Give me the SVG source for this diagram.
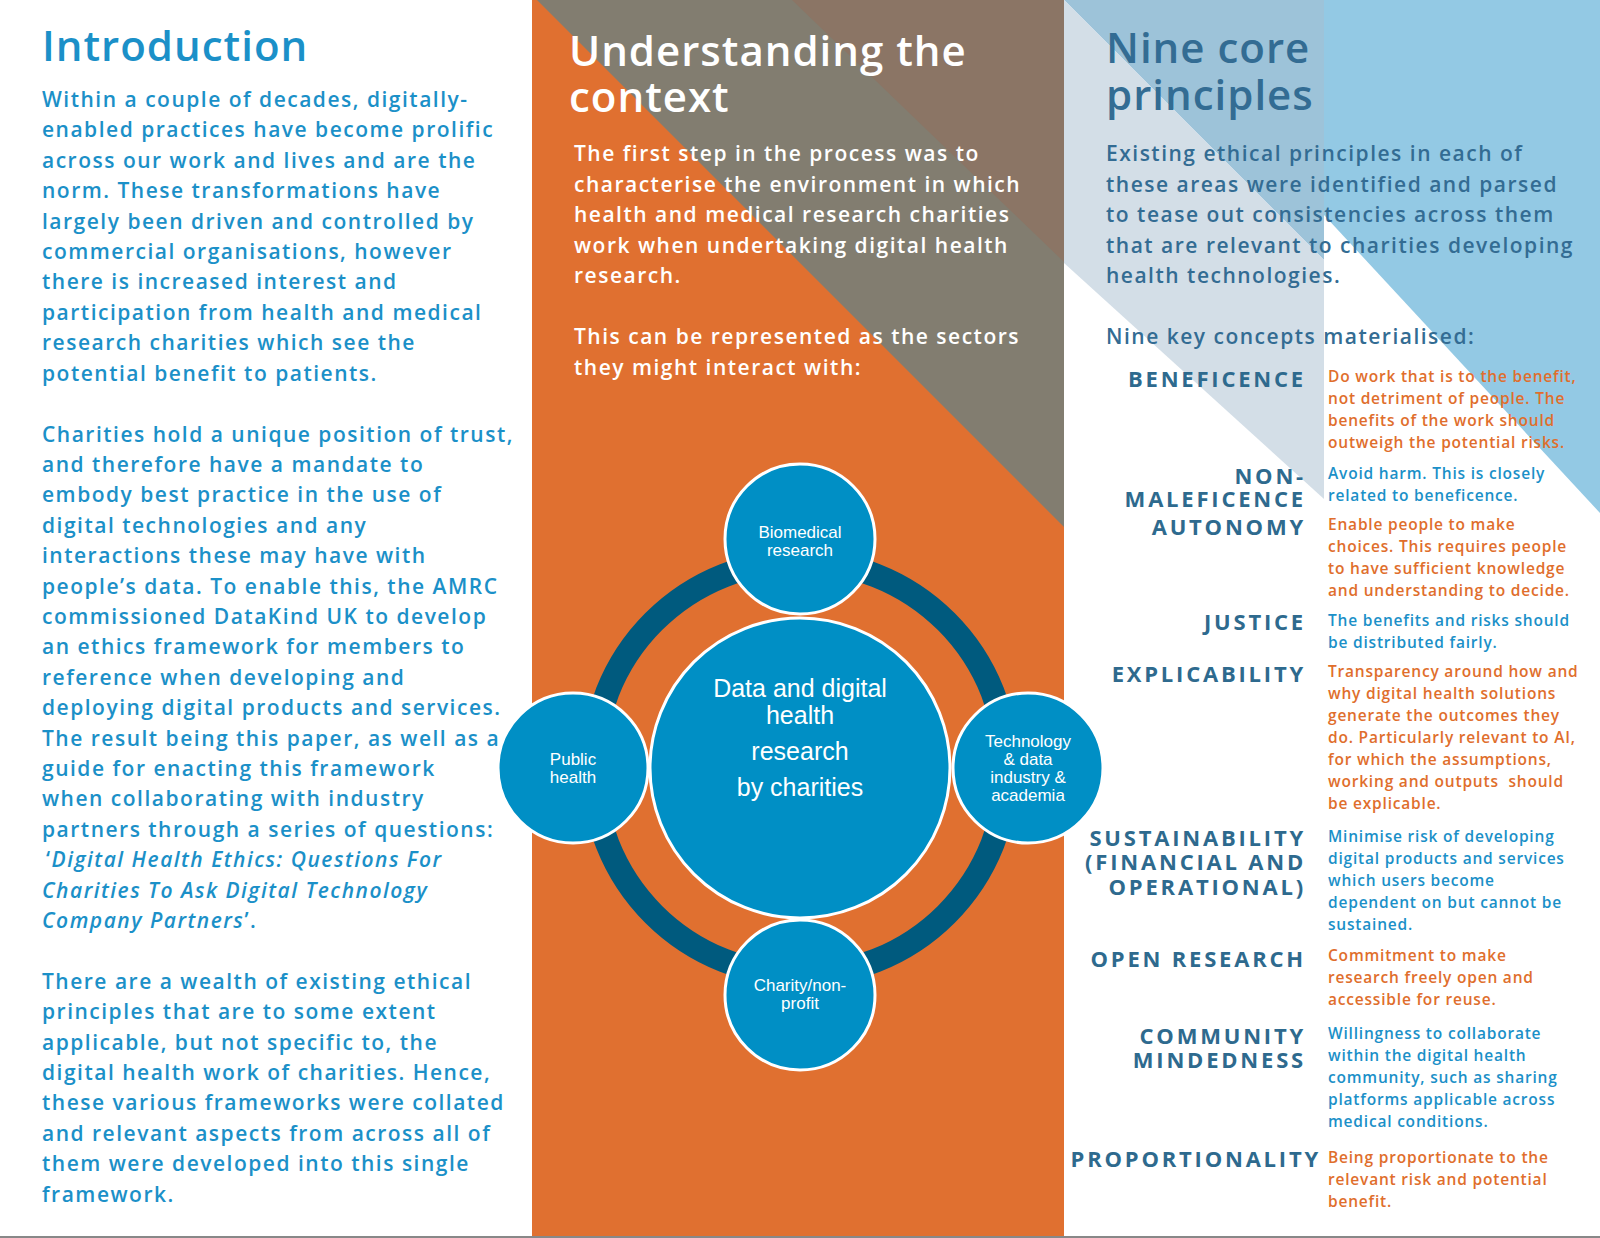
<svg xmlns="http://www.w3.org/2000/svg" width="1600" height="1238" viewBox="0 0 1600 1238">
<style>
text{font-family:"Open Sans","DejaVu Sans",sans-serif;}
.h{font-size:42px;font-weight:600;letter-spacing:1px;}
.p{font-size:21px;font-weight:600;fill:#1B90C8;letter-spacing:1.5px;}
.pw{font-size:21px;font-weight:600;fill:#ffffff;letter-spacing:1.5px;}
.pr{font-size:21px;font-weight:600;fill:#336C93;letter-spacing:1.5px;}
.lab{font-size:22px;font-weight:700;fill:#2E6A8E;letter-spacing:2.8px;text-anchor:end;}
.d{font-size:15.5px;font-weight:600;letter-spacing:0.8px;}
.o{fill:#E06E2C;}
.b{fill:#1B90C8;}
.node{fill:#008FC5;stroke:#ffffff;stroke-width:3;}
.nt{font-family:"Liberation Sans",Arial,sans-serif;fill:#ffffff;text-anchor:middle;font-size:17px;}
.ct{font-family:"Liberation Sans",Arial,sans-serif;fill:#ffffff;text-anchor:middle;font-size:25px;}
</style>
<rect width="1600" height="1238" fill="#ffffff"/>
<rect x="532" y="0" width="532" height="1238" fill="#E07030"/>
<polygon points="537,0 1064,0 1064,527" fill="#827D70"/>
<polygon points="792,0 1064,0 1064,262" fill="#8B7565"/>
<polygon points="1324,0 1600,0 1600,513 1324,215" fill="#93C9E4"/>
<polygon points="1064,0 1324,0 1324,260" fill="#9DC3D9"/>
<polygon points="1064,0 1324,260 1324,499 1064,263" fill="#D3DEE7"/>
<line x1="0" y1="1237" x2="1600" y2="1237" stroke="#888" stroke-width="2"/>

<text class="h" x="42" y="61" fill="#1B90C8">Introduction</text>
<g class="p">
<text x="42" y="107">Within a couple of decades, digitally-</text>
<text x="42" y="137.4">enabled practices have become prolific</text>
<text x="42" y="167.8">across our work and lives and are the</text>
<text x="42" y="198.2">norm. These transformations have</text>
<text x="42" y="228.6">largely been driven and controlled by</text>
<text x="42" y="259">commercial organisations, however</text>
<text x="42" y="289.4">there is increased interest and</text>
<text x="42" y="319.8">participation from health and medical</text>
<text x="42" y="350.2">research charities which see the</text>
<text x="42" y="380.6">potential benefit to patients.</text>
<text x="42" y="441.5">Charities hold a unique position of trust,</text>
<text x="42" y="471.9">and therefore have a mandate to</text>
<text x="42" y="502.3">embody best practice in the use of</text>
<text x="42" y="532.7">digital technologies and any</text>
<text x="42" y="563.1">interactions these may have with</text>
<text x="42" y="593.5">people’s data. To enable this, the AMRC</text>
<text x="42" y="623.9">commissioned DataKind UK to develop</text>
<text x="42" y="654.3">an ethics framework for members to</text>
<text x="42" y="684.7">reference when developing and</text>
<text x="42" y="715.1">deploying digital products and services.</text>
<text x="42" y="745.5">The result being this paper, as well as a</text>
<text x="42" y="775.9">guide for enacting this framework</text>
<text x="42" y="806.3">when collaborating with industry</text>
<text x="42" y="836.7">partners through a series of questions:</text>
<text x="46" y="867.1">‘<tspan font-style="italic">Digital Health Ethics: Questions For</tspan></text>
<text x="42" y="897.5" font-style="italic">Charities To Ask Digital Technology</text>
<text x="42" y="927.9"><tspan font-style="italic">Company Partners</tspan>’.</text>
<text x="42" y="988.7">There are a wealth of existing ethical</text>
<text x="42" y="1019.1">principles that are to some extent</text>
<text x="42" y="1049.5">applicable, but not specific to, the</text>
<text x="42" y="1079.9">digital health work of charities. Hence,</text>
<text x="42" y="1110.3">these various frameworks were collated</text>
<text x="42" y="1140.7">and relevant aspects from across all of</text>
<text x="42" y="1171.1">them were developed into this single</text>
<text x="42" y="1201.5">framework.</text>
</g>

<text class="h" x="569" y="66" fill="#ffffff">Understanding the</text>
<text class="h" x="569" y="112" fill="#ffffff">context</text>
<g class="pw">
<text x="574" y="161">The first step in the process was to</text>
<text x="574" y="191.5">characterise the environment in which</text>
<text x="574" y="222">health and medical research charities</text>
<text x="574" y="252.5">work when undertaking digital health</text>
<text x="574" y="283">research.</text>
<text x="574" y="344">This can be represented as the sectors</text>
<text x="574" y="374.5">they might interact with:</text>
</g>

<g id="connectors">
<circle cx="800" cy="768" r="207" fill="none" stroke="#005A7E" stroke-width="24"/>
</g>
<g id="center">
<circle class="node" cx="800" cy="768" r="150"/>
<text class="ct" x="800" y="697">Data and digital</text>
<text class="ct" x="800" y="724">health</text>
<text class="ct" x="800" y="760">research</text>
<text class="ct" x="800" y="796">by charities</text>
</g>
<g id="biomedical">
<circle class="node" cx="800" cy="539" r="75"/>
<text class="nt" x="800" y="538">Biomedical</text>
<text class="nt" x="800" y="556">research</text>
</g>
<g id="public">
<circle class="node" cx="573" cy="768" r="75"/>
<text class="nt" x="573" y="765">Public</text>
<text class="nt" x="573" y="783">health</text>
</g>
<g id="tech">
<circle class="node" cx="1028" cy="768" r="75"/>
<text class="nt" x="1028" y="747">Technology</text>
<text class="nt" x="1028" y="765">&amp; data</text>
<text class="nt" x="1028" y="783">industry &amp;</text>
<text class="nt" x="1028" y="801">academia</text>
</g>
<g id="charity">
<circle class="node" cx="800" cy="995" r="75"/>
<text class="nt" x="800" y="991">Charity/non-</text>
<text class="nt" x="800" y="1009">profit</text>
</g>

<text class="h" x="1106" y="63" fill="#336C93">Nine core</text>
<text class="h" x="1106" y="110" fill="#336C93">principles</text>
<g class="pr">
<text x="1106" y="161">Existing ethical principles in each of</text>
<text x="1106" y="191.5">these areas were identified and parsed</text>
<text x="1106" y="222">to tease out consistencies across them</text>
<text x="1106" y="252.5">that are relevant to charities developing</text>
<text x="1106" y="283">health technologies.</text>
<text x="1106" y="344">Nine key concepts materialised:</text>
</g>
<g class="lab">
<text x="1306" y="387">BENEFICENCE</text>
<text x="1306" y="484">NON-</text>
<text x="1306" y="507">MALEFICENCE</text>
<text x="1306" y="535">AUTONOMY</text>
<text x="1306" y="630">JUSTICE</text>
<text x="1306" y="682">EXPLICABILITY</text>
<text x="1306" y="846">SUSTAINABILITY</text>
<text x="1306" y="870">(FINANCIAL AND</text>
<text x="1306" y="895">OPERATIONAL)</text>
<text x="1306" y="967">OPEN RESEARCH</text>
<text x="1306" y="1044">COMMUNITY</text>
<text x="1306" y="1068">MINDEDNESS</text>
<text x="1321" y="1167">PROPORTIONALITY</text>
</g>
<g class="d">
<g class="o">
<text x="1328" y="382">Do work that is to the benefit,</text>
<text x="1328" y="404">not detriment of people. The</text>
<text x="1328" y="426">benefits of the work should</text>
<text x="1328" y="448">outweigh the potential risks.</text>
</g>
<g class="b">
<text x="1328" y="479">Avoid harm. This is closely</text>
<text x="1328" y="501">related to beneficence.</text>
</g>
<g class="o">
<text x="1328" y="530">Enable people to make</text>
<text x="1328" y="552">choices. This requires people</text>
<text x="1328" y="574">to have sufficient knowledge</text>
<text x="1328" y="596">and understanding to decide.</text>
</g>
<g class="b">
<text x="1328" y="626">The benefits and risks should</text>
<text x="1328" y="648">be distributed fairly.</text>
</g>
<g class="o">
<text x="1328" y="677">Transparency around how and</text>
<text x="1328" y="699">why digital health solutions</text>
<text x="1328" y="721">generate the outcomes they</text>
<text x="1328" y="743">do. Particularly relevant to AI,</text>
<text x="1328" y="765">for which the assumptions,</text>
<text x="1328" y="787" xml:space="preserve">working and outputs  should</text>
<text x="1328" y="809">be explicable.</text>
</g>
<g class="b">
<text x="1328" y="842">Minimise risk of developing</text>
<text x="1328" y="864">digital products and services</text>
<text x="1328" y="886">which users become</text>
<text x="1328" y="908">dependent on but cannot be</text>
<text x="1328" y="930">sustained.</text>
</g>
<g class="o">
<text x="1328" y="961">Commitment to make</text>
<text x="1328" y="983">research freely open and</text>
<text x="1328" y="1005">accessible for reuse.</text>
</g>
<g class="b">
<text x="1328" y="1039">Willingness to collaborate</text>
<text x="1328" y="1061">within the digital health</text>
<text x="1328" y="1083">community, such as sharing</text>
<text x="1328" y="1105">platforms applicable across</text>
<text x="1328" y="1127">medical conditions.</text>
</g>
<g class="o">
<text x="1328" y="1163">Being proportionate to the</text>
<text x="1328" y="1185">relevant risk and potential</text>
<text x="1328" y="1207">benefit.</text>
</g>
</g>
</svg>
